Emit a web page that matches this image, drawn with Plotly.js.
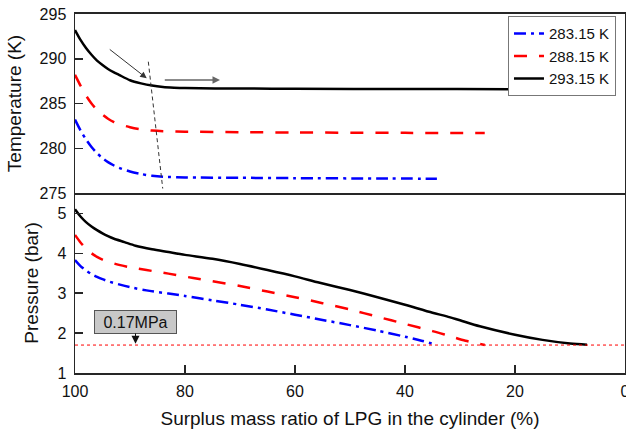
<!DOCTYPE html>
<html><head><meta charset="utf-8">
<script src="https://cdn.plot.ly/plotly-3.0.1.min.js"></script>
<style>html,body{margin:0;padding:0;background:#fff}#chart{width:626px;height:435px}</style>
</head><body><div id="chart"></div>
<script>
// ---- data ----
const seriesNames = ['283.15 K', '288.15 K', '293.15 K'];

// Temperature (K) vs surplus mass ratio (%)
const xT_283 = [100, 99, 98, 97, 96, 95, 94, 93, 92, 90, 88, 86, 84, 80, 70, 60, 45, 34.2];
const T_283  = [283.2, 282.0, 281.0, 280.15, 279.45, 278.9, 278.45, 278.1, 277.82, 277.4, 277.12, 276.93, 276.82, 276.74, 276.7, 276.66, 276.62, 276.6];
const xT_288 = [100, 99, 98, 97, 96, 95, 94, 93, 92, 90, 88, 86, 84, 80, 70, 60, 40, 25.5];
const T_288  = [288.2, 287.0, 285.9, 285.0, 284.3, 283.75, 283.3, 282.95, 282.7, 282.35, 282.1, 281.97, 281.9, 281.85, 281.8, 281.76, 281.72, 281.7];
const xT_293 = [100, 99, 98, 97, 96, 95, 94, 93, 92, 90, 88, 86, 84, 82, 80, 70, 60, 40, 20, 6.9];
const T_293  = [293.2, 292.1, 291.2, 290.45, 289.8, 289.3, 288.85, 288.5, 288.2, 287.6, 287.25, 287.0, 286.85, 286.77, 286.72, 286.67, 286.65, 286.62, 286.6, 286.6];

// Pressure (bar) vs surplus mass ratio (%)
const xP_283 = [100, 99, 98, 97, 96, 95, 94, 92, 90, 87, 83, 80, 75, 70, 65, 60, 55, 50, 45, 40, 37, 34.2];
const P_283  = [3.83, 3.68, 3.57, 3.48, 3.41, 3.35, 3.3, 3.22, 3.15, 3.07, 2.99, 2.93, 2.82, 2.71, 2.59, 2.46, 2.33, 2.2, 2.06, 1.91, 1.81, 1.7];
const xP_288 = [100, 99, 98, 97, 96, 95, 94, 92, 90, 87, 83, 78.5, 75, 70, 65, 60, 55, 50, 45, 40, 35, 32, 29, 25.5];
const P_288  = [4.46, 4.27, 4.12, 4.0, 3.91, 3.84, 3.79, 3.71, 3.65, 3.58, 3.49, 3.38, 3.3, 3.18, 3.04, 2.9, 2.75, 2.59, 2.41, 2.23, 2.05, 1.93, 1.81, 1.7];
const xP_293 = [100, 99, 98, 97, 96, 95, 94, 93, 91, 89, 86, 83, 80, 75, 70, 65, 60, 55.5, 50, 45, 40, 35, 32.4, 30, 26.4, 20, 15, 10, 6.9];
const P_293  = [5.1, 4.92, 4.78, 4.67, 4.58, 4.5, 4.43, 4.37, 4.28, 4.19, 4.1, 4.03, 3.96, 3.86, 3.73, 3.58, 3.42, 3.26, 3.08, 2.9, 2.71, 2.51, 2.42, 2.32, 2.17, 1.96, 1.83, 1.74, 1.71];

const limitPressure = 1.7;          // 0.17 MPa
const limitLabel = '0.17MPa';
const xTicks = [100, 80, 60, 40, 20, 0];

// ---- styles ----
const styles = [
  {color: '#0000ff', dash: '12px,5px,3px,5px'},
  {color: '#ff0000', dash: '13px,12px'},
  {color: '#000000', dash: 'solid'}
];
const font = 'Arial, "Liberation Sans", sans-serif';
const axCol = '#262626';

const Tx = [xT_283, xT_288, xT_293], Ty = [T_283, T_288, T_293];
const Px = [xP_283, xP_288, xP_293], Py = [P_283, P_288, P_293];

const traces = [];
for (let i = 0; i < 3; i++) {
  traces.push({x: Tx[i], y: Ty[i], xaxis: 'x2', yaxis: 'y2', mode: 'lines', name: seriesNames[i],
    line: {color: styles[i].color, dash: styles[i].dash, width: 2.5, shape: 'spline', smoothing: 0.8}, showlegend: true});
}
for (let i = 0; i < 3; i++) {
  traces.push({x: Px[i], y: Py[i], xaxis: 'x', yaxis: 'y', mode: 'lines', name: seriesNames[i],
    line: {color: styles[i].color, dash: styles[i].dash, width: 2.5, shape: 'spline', smoothing: 0.8}, showlegend: false});
}

const split = 180 / 359;
const baseAxis = {showline: true, mirror: true, linecolor: axCol, linewidth: 1.5, showgrid: false, zeroline: false,
  ticks: 'inside', ticklen: 8, tickwidth: 1.5, tickcolor: axCol, tickfont: {family: font, size: 16, color: '#111'}};

const layout = {
  width: 626, height: 435,
  margin: {l: 75, r: 1, t: 14, b: 62},
  paper_bgcolor: '#fff', plot_bgcolor: '#fff',
  font: {family: font, color: '#111'},
  showlegend: true,
  legend: {x: 0.9836, xanchor: 'right', y: 0.994, yanchor: 'top', bgcolor: '#fff', bordercolor: '#777', borderwidth: 1,
    font: {family: font, size: 15, color: '#111'}, tracegroupgap: 0, itemwidth: 30},
  xaxis: Object.assign({}, baseAxis, {range: [100, 0], tickvals: xTicks, anchor: 'y', domain: [0, 1], mirror: false,
    ticklabelstandoff: 3, ticklabeloverflow: 'allow',
    title: {text: 'Surplus mass ratio of LPG in the cylinder (%)', font: {family: font, size: 19, color: '#111'}, standoff: 13}}),
  yaxis: Object.assign({}, baseAxis, {range: [1, 5.51], tickvals: [1, 2, 3, 4, 5], domain: [0, split], anchor: 'x',
    ticklabelstandoff: 4,
    title: {text: 'Pressure (bar)', font: {family: font, size: 19, color: '#111'}, standoff: 13}}),
  xaxis2: Object.assign({}, baseAxis, {range: [100, 0], anchor: 'y2', domain: [0, 1], ticks: '', showticklabels: false, linewidth: 2}),
  yaxis2: Object.assign({}, baseAxis, {range: [275, 295], tickvals: [275, 280, 285, 290, 295], domain: [split, 1], anchor: 'x2',
    ticklabelstandoff: 4,
    title: {text: 'Temperature (K)', font: {family: font, size: 19, color: '#111'}, standoff: 13}}),
  shapes: [
    {type: 'line', xref: 'paper', yref: 'y', x0: 0, x1: 1, y0: limitPressure, y1: limitPressure,
      line: {color: '#ff0000', width: 1, dash: 'dot'}},
    {type: 'line', xref: 'x2', yref: 'y2', x0: 86.67, y0: 289.67, x1: 84.05, y1: 275.5,
      line: {color: '#333', width: 1, dash: '4px,3px'}}
  ],
  annotations: [
    {xref: 'x2', yref: 'y2', axref: 'x2', ayref: 'y2', x: 86.96, y: 287.82, ax: 93.95, ay: 291.17,
      text: '', showarrow: true, arrowhead: 2, arrowsize: 1.3, arrowwidth: 1, arrowcolor: '#333'},
    {xref: 'x2', yref: 'y2', axref: 'x2', ayref: 'y2', x: 73.64, y: 287.63, ax: 83.95, ay: 287.63,
      text: '', showarrow: true, arrowhead: 2, arrowsize: 1, arrowwidth: 1.5, arrowcolor: '#666'},
    {xref: 'x', yref: 'y', axref: 'x', ayref: 'y', x: 89.0, y: limitPressure + 0.03, ax: 89.0, ay: 2.28,
      text: limitLabel, showarrow: true, arrowhead: 2, arrowsize: 1.6, arrowwidth: 1, arrowcolor: '#111',
      bgcolor: '#c8c8c8', bordercolor: '#555', borderwidth: 1, width: 79, height: 20,
      font: {family: font, size: 16, color: '#111'}}
  ]
};

Plotly.newPlot('chart', traces, layout, {displayModeBar: false, staticPlot: true});
</script>
</body></html>
